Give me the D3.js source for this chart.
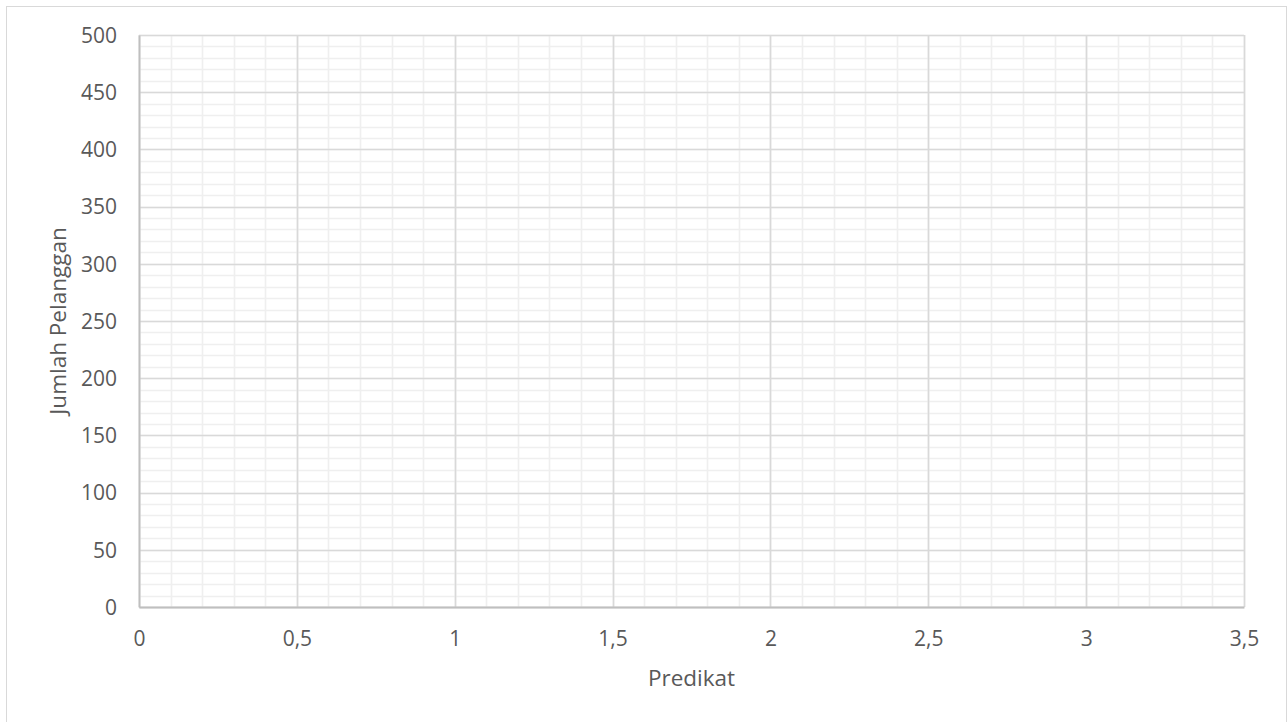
<!DOCTYPE html>
<html>
<head>
<meta charset="utf-8">
<script src="https://cdn.jsdelivr.net/npm/d3@7"></script>
<style>
  html, body { margin: 0; padding: 0; background: #fff; }
  svg { display: block; }
  text { font-family: "Open Sans", "Noto Sans", sans-serif; fill: #595959; }
</style>
</head>
<body>
<svg id="chart" width="1288" height="722"></svg>
<script>
// Axis setup
const xDomain = [0, 3.5];
const yDomain = [0, 500];
const xMajorTicks = [0, 0.5, 1, 1.5, 2, 2.5, 3, 3.5];
const yMajorTicks = [0, 50, 100, 150, 200, 250, 300, 350, 400, 450, 500];
const xMinorStep = 0.1;
const yMinorStep = 10;
const xTitle = "Predikat";
const yTitle = "Jumlah Pelanggan";
// Scatter series (no points plotted)
const seriesX = [];
const seriesY = [];

const svg = d3.select("#chart");
const W = 1288, H = 722;
const plot = { left: 139, right: 1244, top: 35, bottom: 607 };

// Chart area border
svg.append("rect")
  .attr("x", 6.5).attr("y", 6.5)
  .attr("width", W - 8).attr("height", H)
  .attr("fill", "#fff").attr("stroke", "#d9d9d9").attr("stroke-width", 1);

const x = d3.scaleLinear().domain(xDomain).range([plot.left, plot.right]);
const y = d3.scaleLinear().domain(yDomain).range([plot.bottom, plot.top]);

const fmt = d => String(d).replace(".", ",");
const snap = v => Math.round(v) + 0.5;

const xMinor = d3.range(0, Math.round((xDomain[1] - xDomain[0]) / xMinorStep) + 1).map(i => +(i * xMinorStep).toFixed(2));
const yMinor = d3.range(0, Math.round((yDomain[1] - yDomain[0]) / yMinorStep) + 1).map(i => i * yMinorStep);

const grid = svg.append("g");
// Minor gridlines
grid.selectAll(".vminor").data(xMinor).join("line")
  .attr("x1", d => snap(x(d))).attr("x2", d => snap(x(d)))
  .attr("y1", plot.top).attr("y2", plot.bottom)
  .attr("stroke", "#efefef").attr("stroke-width", 1.6);
grid.selectAll(".hminor").data(yMinor).join("line")
  .attr("y1", d => snap(y(d))).attr("y2", d => snap(y(d)))
  .attr("x1", plot.left).attr("x2", plot.right)
  .attr("stroke", "#efefef").attr("stroke-width", 1.6);
// Major gridlines
grid.selectAll(".vmajor").data(xMajorTicks).join("line")
  .attr("x1", d => snap(x(d))).attr("x2", d => snap(x(d)))
  .attr("y1", plot.top).attr("y2", plot.bottom)
  .attr("stroke", "#d9d9d9").attr("stroke-width", 1.6);
grid.selectAll(".hmajor").data(yMajorTicks).join("line")
  .attr("y1", d => snap(y(d))).attr("y2", d => snap(y(d)))
  .attr("x1", plot.left).attr("x2", plot.right)
  .attr("stroke", "#d9d9d9").attr("stroke-width", 1.6);

// Axes
const xAxis = d3.axisBottom(x).tickValues(xMajorTicks).tickFormat(fmt).tickSize(0).tickPadding(24);
const yAxis = d3.axisLeft(y).tickValues(yMajorTicks).tickFormat(fmt).tickSize(0).tickPadding(22);

const gx = svg.append("g").attr("transform", `translate(0,${snap(plot.bottom) - 0.5})`).call(xAxis);
const gy = svg.append("g").attr("transform", `translate(${snap(plot.left) - 0.5},0)`).call(yAxis);
[gx, gy].forEach(g => {
  g.select(".domain").attr("stroke", "#bfbfbf").attr("stroke-width", 1.8);
  g.selectAll("text").attr("font-size", 21).attr("fill", "#595959")
    .attr("font-family", "'Open Sans', 'Noto Sans', sans-serif");
});
gy.selectAll("text").attr("dy", "0.35em");

// Points
svg.append("g").selectAll("circle").data(seriesX.map((v, i) => [v, seriesY[i]])).join("circle")
  .attr("cx", d => x(d[0])).attr("cy", d => y(d[1])).attr("r", 4).attr("fill", "#4472c4");

// Axis titles
svg.append("text")
  .attr("x", (plot.left + plot.right) / 2).attr("y", 686)
  .attr("text-anchor", "middle").attr("font-size", 22.5)
  .text(xTitle);
svg.append("text")
  .attr("transform", `translate(66,${(plot.top + plot.bottom) / 2}) rotate(-90)`)
  .attr("text-anchor", "middle").attr("font-size", 22.5)
  .text(yTitle);
</script>
</body>
</html>
